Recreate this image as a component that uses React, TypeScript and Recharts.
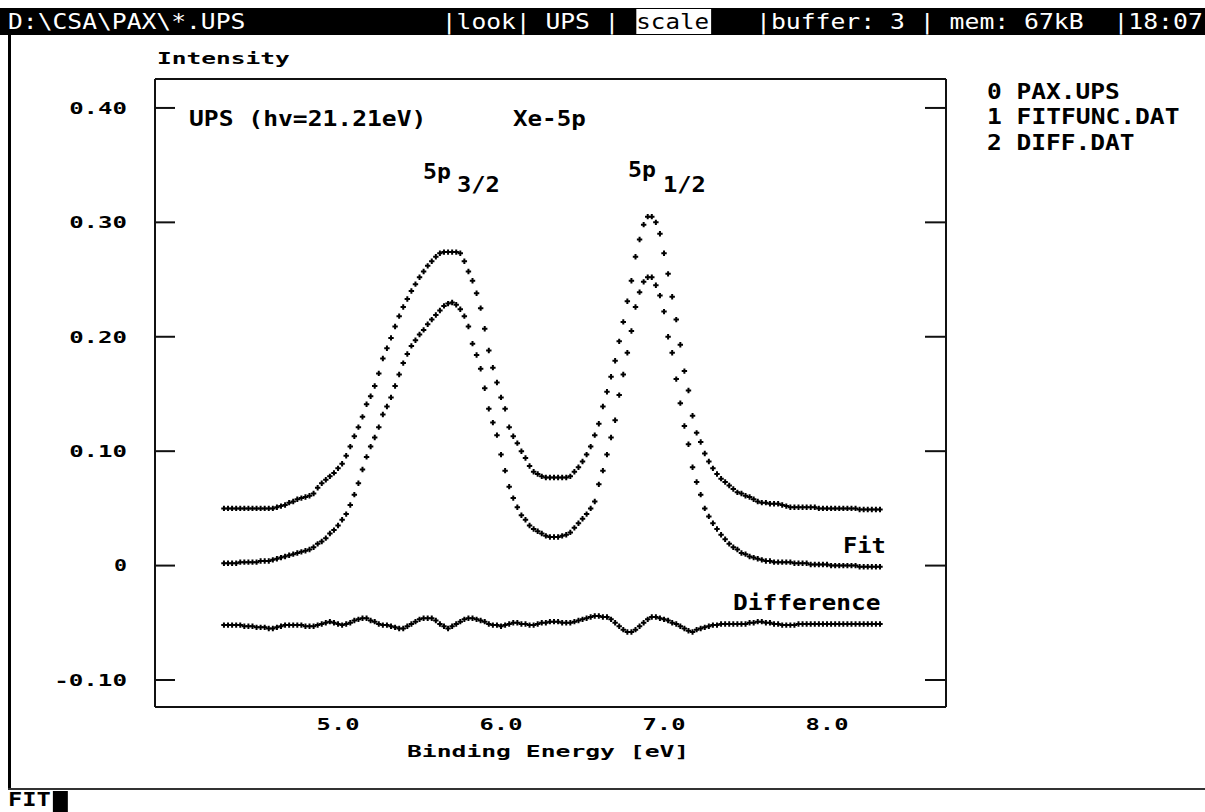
import { ScatterChart, Scatter, XAxis, YAxis } from 'recharts';

// binding energy grid [eV]
const energies = [
  4.300, 4.325, 4.350, 4.375, 4.400, 4.425, 4.450, 4.475, 4.500, 4.525,
  4.550, 4.575, 4.600, 4.625, 4.650, 4.675, 4.700, 4.725, 4.750, 4.775,
  4.800, 4.825, 4.850, 4.875, 4.900, 4.925, 4.950, 4.975, 5.000, 5.025,
  5.050, 5.075, 5.100, 5.125, 5.150, 5.175, 5.200, 5.225, 5.250, 5.275,
  5.300, 5.325, 5.350, 5.375, 5.400, 5.425, 5.450, 5.475, 5.500, 5.525,
  5.550, 5.575, 5.600, 5.625, 5.650, 5.675, 5.700, 5.725, 5.750, 5.775,
  5.800, 5.825, 5.850, 5.875, 5.900, 5.925, 5.950, 5.975, 6.000, 6.025,
  6.050, 6.075, 6.100, 6.125, 6.150, 6.175, 6.200, 6.225, 6.250, 6.275,
  6.300, 6.325, 6.350, 6.375, 6.400, 6.425, 6.450, 6.475, 6.500, 6.525,
  6.550, 6.575, 6.600, 6.625, 6.650, 6.675, 6.700, 6.725, 6.750, 6.775,
  6.800, 6.825, 6.850, 6.875, 6.900, 6.925, 6.950, 6.975, 7.000, 7.025,
  7.050, 7.075, 7.100, 7.125, 7.150, 7.175, 7.200, 7.225, 7.250, 7.275,
  7.300, 7.325, 7.350, 7.375, 7.400, 7.425, 7.450, 7.475, 7.500, 7.525,
  7.550, 7.575, 7.600, 7.625, 7.650, 7.675, 7.700, 7.725, 7.750, 7.775,
  7.800, 7.825, 7.850, 7.875, 7.900, 7.925, 7.950, 7.975, 8.000, 8.025,
  8.050, 8.075, 8.100, 8.125, 8.150, 8.175, 8.200, 8.225, 8.250, 8.275,
  8.300, 8.325,
];

// 0 PAX.UPS (shown offset by +0.05)
const paxUps = [
  0.050, 0.050, 0.050, 0.050, 0.050, 0.050, 0.050, 0.050, 0.050, 0.050,
  0.050, 0.050, 0.050, 0.051, 0.052, 0.053, 0.055, 0.056, 0.058, 0.059,
  0.060, 0.061, 0.063, 0.068, 0.072, 0.075, 0.078, 0.081, 0.085, 0.089,
  0.096, 0.104, 0.113, 0.121, 0.130, 0.141, 0.148, 0.157, 0.168, 0.181,
  0.190, 0.199, 0.209, 0.218, 0.226, 0.233, 0.240, 0.246, 0.252, 0.257,
  0.262, 0.266, 0.270, 0.273, 0.274, 0.274, 0.274, 0.274, 0.273, 0.266,
  0.257, 0.249, 0.238, 0.225, 0.207, 0.188, 0.173, 0.160, 0.147, 0.137,
  0.121, 0.113, 0.107, 0.100, 0.094, 0.087, 0.082, 0.080, 0.078, 0.077,
  0.077, 0.077, 0.077, 0.077, 0.077, 0.078, 0.082, 0.086, 0.091, 0.097,
  0.104, 0.114, 0.124, 0.139, 0.152, 0.165, 0.179, 0.196, 0.213, 0.231,
  0.249, 0.270, 0.285, 0.298, 0.305, 0.305, 0.300, 0.290, 0.273, 0.255,
  0.235, 0.215, 0.193, 0.170, 0.153, 0.131, 0.116, 0.108, 0.098, 0.091,
  0.085, 0.080, 0.076, 0.073, 0.070, 0.067, 0.064, 0.063, 0.061, 0.060,
  0.058, 0.056, 0.055, 0.055, 0.054, 0.054, 0.054, 0.053, 0.052, 0.051,
  0.051, 0.051, 0.051, 0.051, 0.051, 0.051, 0.050, 0.050, 0.050, 0.050,
  0.050, 0.050, 0.050, 0.050, 0.050, 0.050, 0.049, 0.049, 0.049, 0.049,
  0.049, 0.049,
];

// 1 FITFUNC.DAT
const fitFunc = [
  0.002, 0.002, 0.002, 0.002, 0.003, 0.003, 0.003, 0.003, 0.003, 0.004,
  0.004, 0.004, 0.005, 0.006, 0.007, 0.008, 0.009, 0.010, 0.011, 0.012,
  0.013, 0.014, 0.016, 0.019, 0.021, 0.024, 0.028, 0.031, 0.035, 0.040,
  0.045, 0.053, 0.062, 0.072, 0.084, 0.095, 0.104, 0.112, 0.121, 0.132,
  0.139, 0.147, 0.157, 0.167, 0.177, 0.185, 0.192, 0.197, 0.202, 0.206,
  0.211, 0.215, 0.219, 0.223, 0.227, 0.229, 0.230, 0.228, 0.224, 0.218,
  0.209, 0.194, 0.184, 0.172, 0.155, 0.137, 0.125, 0.114, 0.097, 0.083,
  0.069, 0.059, 0.051, 0.044, 0.040, 0.035, 0.032, 0.030, 0.028, 0.026,
  0.025, 0.025, 0.025, 0.026, 0.027, 0.029, 0.033, 0.037, 0.041, 0.045,
  0.050, 0.056, 0.071, 0.083, 0.097, 0.112, 0.127, 0.149, 0.167, 0.186,
  0.205, 0.226, 0.239, 0.248, 0.252, 0.252, 0.245, 0.236, 0.222, 0.200,
  0.186, 0.163, 0.142, 0.122, 0.106, 0.086, 0.073, 0.062, 0.050, 0.043,
  0.037, 0.032, 0.027, 0.023, 0.019, 0.016, 0.014, 0.011, 0.010, 0.008,
  0.007, 0.006, 0.005, 0.004, 0.004, 0.003, 0.003, 0.003, 0.003, 0.003,
  0.002, 0.002, 0.002, 0.002, 0.001, 0.001, 0.001, 0.001, 0.001, 0.000,
  0.000, 0.000, 0.000, 0.000, 0.000, 0.000, -0.001, -0.001, -0.001, -0.001,
  -0.001, -0.001,
];

// 2 DIFF.DAT (shown offset by -0.05)
const diffDat = [
  -0.052, -0.052, -0.052, -0.052, -0.052, -0.053, -0.053, -0.053, -0.054, -0.054,
  -0.054, -0.055, -0.055, -0.054, -0.053, -0.052, -0.052, -0.052, -0.052, -0.052,
  -0.053, -0.053, -0.053, -0.052, -0.051, -0.050, -0.049, -0.050, -0.051, -0.052,
  -0.051, -0.050, -0.048, -0.047, -0.046, -0.046, -0.048, -0.049, -0.051, -0.052,
  -0.052, -0.053, -0.054, -0.055, -0.055, -0.053, -0.051, -0.049, -0.047, -0.046,
  -0.046, -0.046, -0.048, -0.051, -0.053, -0.055, -0.053, -0.051, -0.049, -0.047,
  -0.046, -0.046, -0.047, -0.048, -0.049, -0.051, -0.052, -0.052, -0.053, -0.052,
  -0.051, -0.050, -0.050, -0.051, -0.051, -0.052, -0.052, -0.051, -0.050, -0.050,
  -0.049, -0.049, -0.049, -0.050, -0.050, -0.050, -0.049, -0.048, -0.047, -0.046,
  -0.045, -0.044, -0.044, -0.045, -0.045, -0.047, -0.050, -0.053, -0.056, -0.058,
  -0.058, -0.056, -0.053, -0.050, -0.047, -0.045, -0.045, -0.046, -0.047, -0.048,
  -0.050, -0.051, -0.053, -0.055, -0.057, -0.058, -0.056, -0.055, -0.054, -0.053,
  -0.052, -0.052, -0.051, -0.051, -0.051, -0.051, -0.051, -0.051, -0.051, -0.050,
  -0.050, -0.049, -0.049, -0.050, -0.050, -0.051, -0.051, -0.052, -0.052, -0.052,
  -0.052, -0.051, -0.051, -0.051, -0.051, -0.051, -0.051, -0.051, -0.051, -0.051,
  -0.051, -0.051, -0.051, -0.051, -0.051, -0.051, -0.051, -0.051, -0.051, -0.051,
  -0.051, -0.051,
];

const xTicks = [5, 6, 7, 8];
const yTicks = [-0.1, 0, 0.1, 0.2, 0.3, 0.4];
const legendItems = ['0 PAX.UPS', '1 FITFUNC.DAT', '2 DIFF.DAT'];

const X_DOMAIN = [3.877, 8.73];
const Y_DOMAIN = [-0.1236, 0.4253];

const MONO = '"DejaVu Sans Mono", "Liberation Mono", monospace';
const CELL = 14.96; // width of one character cell of the DOS screen
const col = (c: number) => 8 + c * CELL;

const toPoints = (vals: number[]) => energies.map((e, i) => ({ e, v: vals[i] }));

// "+" marker like the plotter draws
const Plus = (props: any) => {
  const { cx, cy } = props;
  if (cx == null || cy == null) return null;
  return (
    <path
      d={`M${cx - 2.7},${cy}H${cx + 2.7}M${cx},${cy - 2.7}V${cy + 2.7}`}
      stroke="#000"
      strokeWidth={2}
    />
  );
};

// text stretched to fill whole character cells
const Txt = ({ x, y, text, size = 21, bold = true, fill = '#000', anchor = 'start' }: any) => (
  <text
    x={x}
    y={y + size * 0.365}
    fontFamily={MONO}
    fontSize={size}
    fontWeight={bold ? 'bold' : 'normal'}
    fill={fill}
    textAnchor={anchor}
    textLength={text.length * CELL - 2}
    lengthAdjust="spacingAndGlyphs"
    style={{ whiteSpace: 'pre' }}
  >
    {text}
  </text>
);

const XTick = (props: any) => {
  const { x, y, payload } = props;
  return <Txt x={x} y={y} text={Number(payload.value).toFixed(1)} size={16} anchor="middle" />;
};

const YTick = (props: any) => {
  const { x, y, payload } = props;
  const v = Number(payload.value);
  const label = Math.abs(v) < 1e-9 ? '0' : v.toFixed(2);
  return <Txt x={x} y={y} text={label} size={16} anchor="end" />;
};

// frame axes only show their inward tick marks
const NoLabel = () => null;

const axisLine = { stroke: '#111', strokeWidth: 2 };

export default function App() {
  return (
    <div
      style={{
        position: 'absolute',
        left: 0,
        top: 0,
        width: 1205,
        height: 812,
        background: '#fff',
        overflow: 'hidden',
      }}
    >
      <div style={{ position: 'absolute', left: 0, top: 0 }}>
        <ScatterChart width={1205} height={812} margin={{ top: 79, right: 259, bottom: 45, left: 95 }}>
          <XAxis
            xAxisId="xb"
            type="number"
            dataKey="e"
            orientation="bottom"
            domain={X_DOMAIN}
            allowDataOverflow
            ticks={xTicks}
            height={60}
            axisLine={false}
            tickLine={false}
            tickSize={0}
            tickMargin={17}
            tick={<XTick />}
          />
          <XAxis
            xAxisId="xbm"
            type="number"
            orientation="bottom"
            mirror
            domain={X_DOMAIN}
            allowDataOverflow
            ticks={xTicks}
            tick={NoLabel}
            tickSize={16}
            tickLine={axisLine}
            axisLine={axisLine}
          />
          <XAxis
            xAxisId="xt"
            type="number"
            orientation="top"
            mirror
            domain={X_DOMAIN}
            allowDataOverflow
            ticks={xTicks}
            tick={NoLabel}
            tickSize={16}
            tickLine={axisLine}
            axisLine={axisLine}
          />
          <YAxis
            yAxisId="yl"
            type="number"
            dataKey="v"
            orientation="left"
            width={60}
            domain={Y_DOMAIN}
            allowDataOverflow
            ticks={yTicks}
            axisLine={false}
            tickLine={false}
            tickSize={0}
            tickMargin={28}
            tick={<YTick />}
          />
          <YAxis
            yAxisId="ylm"
            type="number"
            orientation="left"
            mirror
            domain={Y_DOMAIN}
            allowDataOverflow
            ticks={yTicks}
            tick={NoLabel}
            tickSize={20}
            tickLine={axisLine}
            axisLine={axisLine}
          />
          <YAxis
            yAxisId="yr"
            type="number"
            orientation="right"
            mirror
            domain={Y_DOMAIN}
            allowDataOverflow
            ticks={yTicks}
            tick={NoLabel}
            tickSize={21}
            tickLine={axisLine}
            axisLine={axisLine}
          />
          <Scatter name="PAX.UPS" data={toPoints(paxUps)} xAxisId="xb" yAxisId="yl" shape={Plus} isAnimationActive={false} />
          <Scatter name="FITFUNC.DAT" data={toPoints(fitFunc)} xAxisId="xb" yAxisId="yl" shape={Plus} isAnimationActive={false} />
          <Scatter name="DIFF.DAT" data={toPoints(diffDat)} xAxisId="xb" yAxisId="yl" shape={Plus} isAnimationActive={false} />
        </ScatterChart>
      </div>

      <svg
        width={1205}
        height={812}
        style={{ position: 'absolute', left: 0, top: 0, pointerEvents: 'none' }}
      >
        {/* DOS status bar */}
        <rect x={0} y={8} width={1205} height={27} fill="#000" />
        <rect x={col(42)} y={9} width={5 * CELL} height={25} fill="#fff" />
        <Txt x={col(0)} y={21} text={'D:\\CSA\\PAX\\*.UPS'} fill="#fff" bold={false} />
        <Txt x={col(29)} y={21} text="|look| UPS |" fill="#fff" bold={false} />
        <Txt x={col(42)} y={21} text="scale" fill="#000" bold={false} />
        <Txt x={col(50)} y={21} text="|buffer: 3 | mem: 67kB  |18:07" fill="#fff" bold={false} />

        {/* window frame and command line */}
        <rect x={8} y={35} width={3} height={755} fill="#000" />
        <rect x={8} y={788} width={1197} height={2} fill="#333" />
        <Txt x={col(0)} y={799} text="FIT" size={20} />
        <rect x={col(3)} y={791} width={CELL} height={21} fill="#000" />

        {/* axis titles */}
        <Txt x={157} y={58} text="Intensity" size={16} />
        <Txt x={407} y={751} text="Binding Energy [eV]" size={16} />

        {/* annotations inside the plot */}
        <Txt x={189} y={118} text="UPS (hv=21.21eV)" />
        <Txt x={513} y={118} text="Xe-5p" />
        <Txt x={423} y={171} text="5p" />
        <Txt x={457} y={184} text="3/2" />
        <Txt x={628} y={169} text="5p" />
        <Txt x={663} y={184} text="1/2" />
        <Txt x={843} y={545} text="Fit" />
        <Txt x={733} y={602} text="Difference" />

        {/* buffer list */}
        {legendItems.map((t, i) => (
          <Txt key={t} x={987} y={91 + i * 25.5} text={t} />
        ))}
      </svg>
    </div>
  );
}
